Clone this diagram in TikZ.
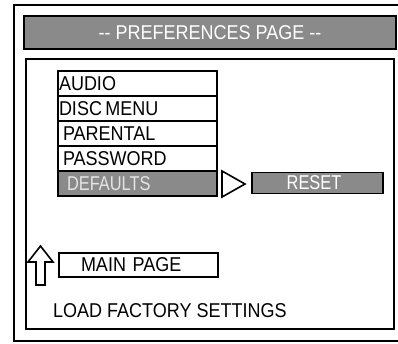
\documentclass[tikz,border=0pt]{standalone}
\usepackage{fontspec}
\setmainfont{Liberation Sans}
\newfontfamily\menufont[FakeStretch=0.9]{Liberation Sans}
\newfontfamily\tightfont[FakeStretch=0.82]{Liberation Sans}
\usetikzlibrary{positioning}

\definecolor{bargray}{RGB}{138,138,138}
\definecolor{dimwhite}{RGB}{228,228,228}

\begin{document}
\begin{tikzpicture}[
  x=1pt, y=-1pt,
  frame/.style = {line width=1.6pt},
  bar/.style = {draw, line width=1.6pt, fill=bargray, text=white, outer sep=0pt},
  item/.style = {draw, line width=1.6pt, outer sep=0pt, minimum height=25pt,
                 text width=157pt, inner xsep=1pt, align=left,
                 font=\menufont\fontsize{20}{20}\selectfont},
  hilite/.style = {item, fill=bargray, text=dimwhite, font=\tightfont\fontsize{20}{20}\selectfont},
  node distance=0pt
]
  \useasboundingbox (0,0) rectangle (398,343);

  % outer frame (runs off the right side)
  \draw[frame] (398,5) -- (14,5) -- (14,341) -- (398,341);

  % title bar
  \node[bar, minimum width=372pt, minimum height=33pt,
        font=\menufont\fontsize{20}{20}\selectfont] (title) at (210,32.5) {-{}- PREFERENCES PAGE -{}-};

  % menu panel
  \draw[frame] (26,59) rectangle (394,329);

  % menu items
  \node[item, anchor=north west] (audio) at (58,71) {AUDIO};
  \node[item, below=of audio] (disc) {DISC\,MENU};
  \node[item, below=of disc] (parental) {\hspace*{4pt}PARENTAL};
  \node[item, below=of parental] (password) {\hspace*{4pt}PASSWORD};
  \node[hilite, below=of password] (defaults) {\hspace*{8pt}DEFAULTS};

  % pointer to the sub item
  \draw[frame, line join=miter] (222,171) -- (245,184) -- (222,197) -- cycle;

  % sub item
  \node[bar, minimum width=131pt, minimum height=20pt,
        font=\tightfont\fontsize{20}{20}\selectfont] (reset) at (317.5,183) {\hspace*{-7pt}RESET};

  % back to main page
  \draw[frame, line join=miter] (40.5,246) -- (53,262) -- (45,262) -- (45,285)
    -- (36,285) -- (36,262) -- (28,262) -- cycle;
  \node[item, anchor=north west, minimum height=24pt] (mainpage) at (59,253) {\hspace*{21pt}MAIN PAGE};

  % help line
  \node[anchor=base west, inner sep=0pt, font=\menufont\fontsize{20}{20}\selectfont] (help) at (53,317) {LOAD FACTORY SETTINGS};
\end{tikzpicture}
\end{document}
